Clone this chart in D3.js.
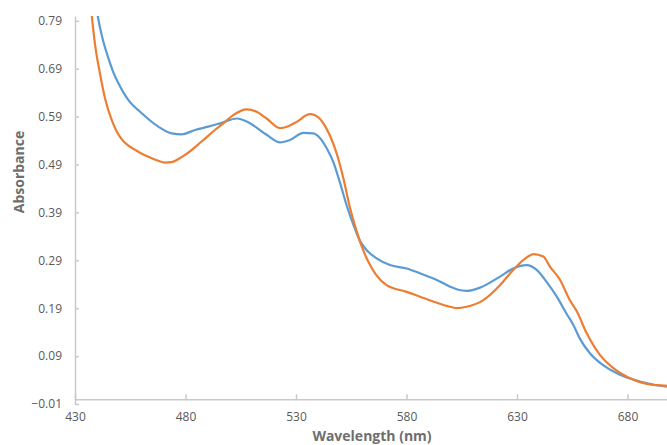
<!DOCTYPE html>
<meta charset="utf-8">
<style>
body { margin: 0; background: #fff; }
.axis text { font-family: "Open Sans", sans-serif; font-size: 12px; fill: #595959; }
.axis path, .axis line { stroke: #c9c9c9; stroke-width: 1.5px; }
.title { font-family: "Open Sans", sans-serif; font-size: 14px; font-weight: bold; fill: #6e6e6e; }
.series { fill: none; stroke-width: 2.2px; stroke-linejoin: round; }
</style>
<svg width="667" height="445"></svg>
<script src="https://d3js.org/d3.v7.min.js"></script>
<script>

// x ticks and y ticks as shown in the chart
var xTicks = [430, 480, 530, 580, 630, 680];
var yTicks = [-0.01, 0.09, 0.19, 0.29, 0.39, 0.49, 0.59, 0.69, 0.79];

// orange series
var orangeWl  = [436.5, 437.6, 439.0, 441.3, 443.6, 446.6, 449.0, 451.1, 454.0, 457.1, 460.0, 463.2, 467.0, 470.7, 473.8,
                 477.0, 479.8, 487.3, 493.3, 497.9,
                 501.6, 507.7, 512.2, 516.7, 522.8, 526.5, 530.3, 536.3, 538.6, 542.4, 545.4, 548.4, 551.4, 554.4, 557.5,
                 560.5, 563.5, 566.5, 571.0, 580.1, 586.1, 592.1, 599.7, 603.0, 607.2, 614.8, 622.3, 628.3, 634.4, 637.4,
                 641.9, 644.9, 649.5, 654.0, 657.0, 661.5, 667.6, 673.6, 681.1, 691.7, 697.9, 700];
var orangeAbs = [0.85, 0.80, 0.743, 0.68, 0.628, 0.583, 0.558, 0.543, 0.530, 0.521, 0.513, 0.506, 0.499, 0.494, 0.495,
                 0.502, 0.510, 0.538, 0.562, 0.579,
                 0.593, 0.605, 0.600, 0.586, 0.566, 0.570, 0.579, 0.595, 0.593, 0.576, 0.550, 0.513, 0.462, 0.400, 0.350,
                 0.310, 0.280, 0.258, 0.238, 0.224, 0.214, 0.204, 0.193, 0.190, 0.193, 0.207, 0.238, 0.270, 0.296, 0.303,
                 0.298, 0.277, 0.249, 0.206, 0.184, 0.138, 0.092, 0.065, 0.044, 0.030, 0.028, 0.027];

// blue series
var blueWl  = [439.0, 440.3, 442.1, 445.1, 447.3, 449.6, 451.8, 454.1, 460.2, 467.7, 473.8, 478.3, 484.3, 490.3, 496.4,
               503.2, 509.2,
               516.7, 522.8, 527.3, 533.3, 537.8, 540.9, 543.9, 546.9, 549.9, 552.9, 555.9, 559.0, 562.0, 566.5, 572.5,
               580.1, 586.1, 593.7, 599.7, 603.0, 607.2, 613.3, 622.3, 628.3, 634.4, 638.9, 643.4, 648.0, 652.5, 655.5,
               658.5, 663.0, 669.0, 676.6, 685.6, 697.9, 700];
var blueAbs = [0.84, 0.80, 0.760, 0.712, 0.683, 0.660, 0.641, 0.625, 0.597, 0.569, 0.555, 0.553, 0.562, 0.569, 0.577,
               0.586, 0.576,
               0.552, 0.536, 0.541, 0.556, 0.555, 0.545, 0.524, 0.495, 0.452, 0.405, 0.365, 0.330, 0.311, 0.294, 0.280,
               0.273, 0.263, 0.249, 0.235, 0.229, 0.226, 0.233, 0.256, 0.273, 0.280, 0.270, 0.245, 0.214, 0.178, 0.155,
               0.126, 0.096, 0.071, 0.051, 0.037, 0.026, 0.025];

var svg = d3.select("svg");

var x = d3.scaleLinear().domain([430, 700]).range([75, 671.7]);
var y = d3.scaleLinear().domain([-0.01, 0.80]).range([404, 16]);

// clip lines to the plot area
svg.append("clipPath").attr("id", "plot")
  .append("rect").attr("x", 75).attr("y", 16).attr("width", 600).attr("height", 388);

var yAxis = d3.axisLeft(y).tickValues(yTicks).tickFormat(d3.format(".2f"))
  .tickSizeInner(-4).tickSizeOuter(0).tickPadding(13);
svg.append("g").attr("class", "axis").attr("transform", "translate(75,0)").call(yAxis);

var xAxis = d3.axisBottom(x).tickValues(xTicks).tickFormat(d3.format("d"))
  .tickSizeInner(-5).tickSizeOuter(0).tickPadding(13);
svg.append("g").attr("class", "axis").attr("transform", "translate(0," + y(0) + ")").call(xAxis);

var line = d3.line().x(d => x(d[0])).y(d => y(d[1])).curve(d3.curveMonotoneX);

var blue = blueWl.map((w, i) => [w, blueAbs[i]]);
var orange = orangeWl.map((w, i) => [w, orangeAbs[i]]);

var lines = svg.append("g").attr("clip-path", "url(#plot)");
lines.append("path").attr("class", "series").attr("stroke", "#5b9bd5").attr("d", line(blue));
lines.append("path").attr("class", "series").attr("stroke", "#ed7d31").attr("d", line(orange));

svg.append("text").attr("class", "title").attr("text-anchor", "middle")
  .attr("transform", "translate(24,172) rotate(-90)").text("Absorbance");
svg.append("text").attr("class", "title").attr("text-anchor", "middle")
  .attr("x", 372).attr("y", 441).text("Wavelength (nm)");

</script>
